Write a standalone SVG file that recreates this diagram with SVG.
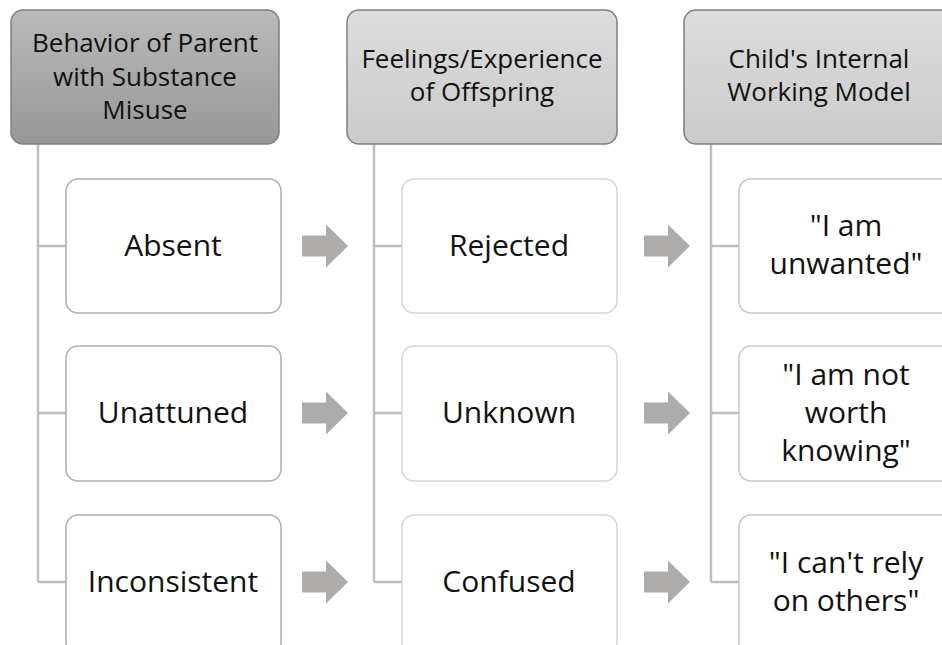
<svg xmlns="http://www.w3.org/2000/svg" width="942" height="645" viewBox="0 0 942 645">
<defs>
<linearGradient id="gDark" x1="0" y1="0" x2="0" y2="1">
<stop offset="0" stop-color="#bababa"/><stop offset="1" stop-color="#979797"/>
</linearGradient>
<linearGradient id="gLight" x1="0" y1="0" x2="0" y2="1">
<stop offset="0" stop-color="#dcdcdc"/><stop offset="1" stop-color="#cbcbcb"/>
</linearGradient>
<path id="arr" d="M0,-10.5 H24 V-21.5 L46,0 L24,21.5 V10.5 H0 Z"/>
</defs>
<style>
text{font-family:"Open Sans","Noto Sans","Liberation Sans",sans-serif;fill:#111;text-anchor:middle}
.h{font-size:26px}
.t{font-size:30px}
.hd{stroke:#7f7f7f;stroke-width:1.5}
.c1{fill:#fff;stroke:#adadad;stroke-width:1.5}
.c2{fill:#fff;stroke:#d6d6d6;stroke-width:1.5}
.c3{fill:#fff;stroke:#c6c6c6;stroke-width:1.5}
.ln{fill:none;stroke:#bfbfbf;stroke-width:2.5}
.ar{fill:#aeabab}
</style>
<rect width="942" height="645" fill="#fff"/>
<g id="connectors">
<path class="ln" d="M38,144 V582 M38,246 H66 M38,413 H66 M38,582 H66"/>
<path class="ln" d="M374,144 V582 M374,246 H402 M374,413 H402 M374,582 H402"/>
<path class="ln" d="M711,144 V582 M711,246 H739 M711,413 H739 M711,582 H739"/>
<use href="#arr" class="ar" x="302" y="246"/>
<use href="#arr" class="ar" x="302" y="413"/>
<use href="#arr" class="ar" x="302" y="582"/>
<use href="#arr" class="ar" x="644" y="246"/>
<use href="#arr" class="ar" x="644" y="413"/>
<use href="#arr" class="ar" x="644" y="582"/>
</g>
<g id="h1"><rect class="hd" x="11" y="10" width="268" height="134" rx="12" fill="url(#gDark)"/>
<text class="h" x="145" y="52">Behavior of Parent</text><text class="h" x="145" y="86">with Substance</text><text class="h" x="145" y="119">Misuse</text></g>
<g id="h2"><rect class="hd" x="347" y="10" width="270" height="134" rx="12" fill="url(#gLight)"/>
<text class="h" x="482" y="68">Feelings/Experience</text><text class="h" x="482" y="101">of Offspring</text></g>
<g id="h3"><rect class="hd" x="684" y="10" width="270" height="134" rx="12" fill="url(#gLight)"/>
<text class="h" x="819" y="68">Child's Internal</text><text class="h" x="819" y="101">Working Model</text></g>
<g id="absent"><rect class="c1" x="66" y="179" width="215" height="134" rx="12"/><text class="t" x="173" y="256">Absent</text></g>
<g id="unattuned"><rect class="c1" x="66" y="346" width="215" height="135" rx="12"/><text class="t" x="173" y="423">Unattuned</text></g>
<g id="inconsistent"><rect class="c1" x="66" y="515" width="215" height="140" rx="12"/><text class="t" x="173" y="592">Inconsistent</text></g>
<g id="rejected"><rect class="c2" x="402" y="179" width="215" height="134" rx="12"/><text class="t" x="509" y="256">Rejected</text></g>
<g id="unknown"><rect class="c2" x="402" y="346" width="215" height="135" rx="12"/><text class="t" x="509" y="423">Unknown</text></g>
<g id="confused"><rect class="c2" x="402" y="515" width="215" height="140" rx="12"/><text class="t" x="509" y="592">Confused</text></g>
<g id="unwanted"><rect class="c3" x="739" y="179" width="215" height="134" rx="12"/><text class="t" x="846" y="236">"I am</text><text class="t" x="846" y="274">unwanted"</text></g>
<g id="notworth"><rect class="c3" x="739" y="346" width="215" height="135" rx="12"/><text class="t" x="846" y="385">"I am not</text><text class="t" x="846" y="423">worth</text><text class="t" x="846" y="461">knowing"</text></g>
<g id="cantrely"><rect class="c3" x="739" y="515" width="215" height="140" rx="12"/><text class="t" x="846" y="573">"I can't rely</text><text class="t" x="846" y="611">on others"</text></g>
</svg>
